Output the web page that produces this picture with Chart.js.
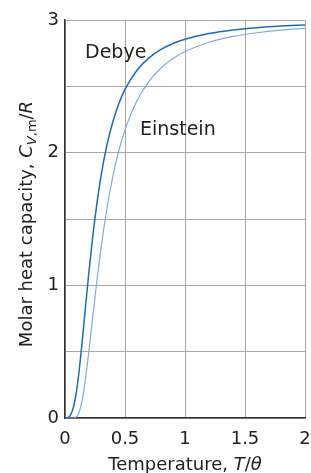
<!DOCTYPE html>
<html>
<head>
<meta charset="utf-8">
<script src="https://cdn.jsdelivr.net/npm/chart.js@4"></script>
<style>
    body { margin: 0; background: #fff; }
    #box { width: 311px; height: 473px; }
</style>
</head>
<body>
<div id="box"><canvas id="grafico"></canvas></div>
<script>
const temperaturas = [0, 0.02, 0.04, 0.06, 0.08, 0.1, 0.12, 0.14, 0.16, 0.18, 0.2, 0.25, 0.3, 0.35, 0.4, 0.45, 0.5, 0.6, 0.7, 0.8, 0.9, 1.0, 1.2, 1.4, 1.6, 1.8, 2.0]
const debye = [0, 0.002, 0.015, 0.050, 0.119, 0.228, 0.373, 0.546, 0.734, 0.923, 1.106, 1.509, 1.823, 2.060, 2.237, 2.372, 2.477, 2.621, 2.715, 2.778, 2.823, 2.855, 2.898, 2.925, 2.942, 2.954, 2.963]
const einstein = [0, 0, 0, 0, 0.002, 0.014, 0.050, 0.121, 0.227, 0.361, 0.512, 0.912, 1.279, 1.583, 1.827, 2.020, 2.172, 2.392, 2.538, 2.638, 2.710, 2.762, 2.832, 2.876, 2.904, 2.924, 2.938]
const ticksX = [0, 0.5, 1, 1.5, 2]
const ticksY = [0, 1, 2, 3]

const FONTE = '"DejaVu Sans", sans-serif'

function pontos(valores) {
    return temperaturas.map((t, i) => ({ x: t, y: valores[i] }))
}

// escreve um texto em pedaços com estilos diferentes, a partir de (0,0)
function escreveTrechos(ctx, trechos) {
    let x = 0
    for (let tr of trechos) {
        ctx.font = tr.font
        ctx.fillText(tr.texto, x, tr.dy || 0)
        x += ctx.measureText(tr.texto).width
    }
    return x
}

function larguraTrechos(ctx, trechos) {
    let w = 0
    for (let tr of trechos) {
        ctx.font = tr.font
        w += ctx.measureText(tr.texto).width
    }
    return w
}

const textos = {
    id: 'textos',
    afterDraw(chart) {
        const ctx = chart.ctx
        const sx = chart.scales.x
        const sy = chart.scales.y
        const area = chart.chartArea
        ctx.save()
        ctx.fillStyle = '#222'
        ctx.textBaseline = 'alphabetic'
        ctx.textAlign = 'left'

        ctx.font = '19px ' + FONTE
        ctx.fillText('Debye', sx.getPixelForValue(0.167), sy.getPixelForValue(2.714))
        ctx.fillText('Einstein', sx.getPixelForValue(0.625), sy.getPixelForValue(2.133))

        const normal = '18px ' + FONTE
        const italico = 'italic 18px ' + FONTE
        const sub = '13px ' + FONTE
        const subIt = 'italic 13px ' + FONTE

        const tituloX = [
            { texto: 'Temperature, ', font: normal },
            { texto: 'T', font: italico },
            { texto: '/', font: normal },
            { texto: 'θ', font: italico }
        ]
        const wx = larguraTrechos(ctx, tituloX)
        ctx.save()
        ctx.translate((area.left + area.right) / 2 - wx / 2, 470)
        escreveTrechos(ctx, tituloX)
        ctx.restore()

        const tituloY = [
            { texto: 'Molar heat capacity, ', font: normal },
            { texto: 'C', font: italico },
            { texto: 'V', font: subIt, dy: 4 },
            { texto: ',m', font: sub, dy: 4 },
            { texto: '/', font: normal },
            { texto: 'R', font: italico }
        ]
        const wy = larguraTrechos(ctx, tituloY)
        ctx.save()
        ctx.translate(32, (area.top + area.bottom) / 2 + 5 + wy / 2)
        ctx.rotate(-Math.PI / 2)
        escreveTrechos(ctx, tituloY)
        ctx.restore()

        ctx.restore()
    }
}

new Chart(document.getElementById('grafico').getContext('2d'), {
    type: 'line',
    data: {
        datasets: [{
            label: 'Debye',
            data: pontos(debye),
            borderColor: '#1a6db6',
            borderWidth: 1.5,
            pointRadius: 0,
            cubicInterpolationMode: 'monotone'
        }, {
            label: 'Einstein',
            data: pontos(einstein),
            borderColor: '#85aadf',
            borderWidth: 1.2,
            pointRadius: 0,
            cubicInterpolationMode: 'monotone'
        }]
    },
    options: {
        responsive: true,
        maintainAspectRatio: false,
        animation: false,
        layout: { padding: { top: 20, right: 6, left: 0, bottom: 0 } },
        plugins: {
            legend: { display: false },
            tooltip: { enabled: false }
        },
        scales: {
            x: {
                type: 'linear',
                min: 0,
                max: 2,
                afterFit: (scale) => {
                    scale.height = 55
                    scale.paddingLeft = 0
                    scale.paddingRight = 0
                },
                afterBuildTicks: (scale) => { scale.ticks = ticksX.map(v => ({ value: v })) },
                ticks: {
                    font: { family: FONTE, size: 18 },
                    color: '#222',
                    padding: 11,
                    maxRotation: 0,
                    callback: (v) => String(v)
                },
                grid: { color: '#a8a8a8', lineWidth: 1, drawTicks: false },
                border: { color: '#333', width: 1.5 }
            },
            y: {
                min: 0,
                max: 3,
                afterFit: (scale) => {
                    scale.width = 65
                    scale.paddingTop = 0
                    scale.paddingBottom = 0
                },
                afterBuildTicks: (scale) => {
                    scale.ticks = [0, 0.5, 1, 1.5, 2, 2.5, 3].map(v => ({ value: v }))
                },
                ticks: {
                    font: { family: FONTE, size: 18 },
                    color: '#222',
                    padding: 6,
                    callback: (v) => ticksY.includes(v) ? String(v) : ''
                },
                grid: { color: '#a8a8a8', lineWidth: 1, drawTicks: false },
                border: { color: '#333', width: 1.5 }
            }
        }
    },
    plugins: [textos]
});
</script>
</body>
</html>
